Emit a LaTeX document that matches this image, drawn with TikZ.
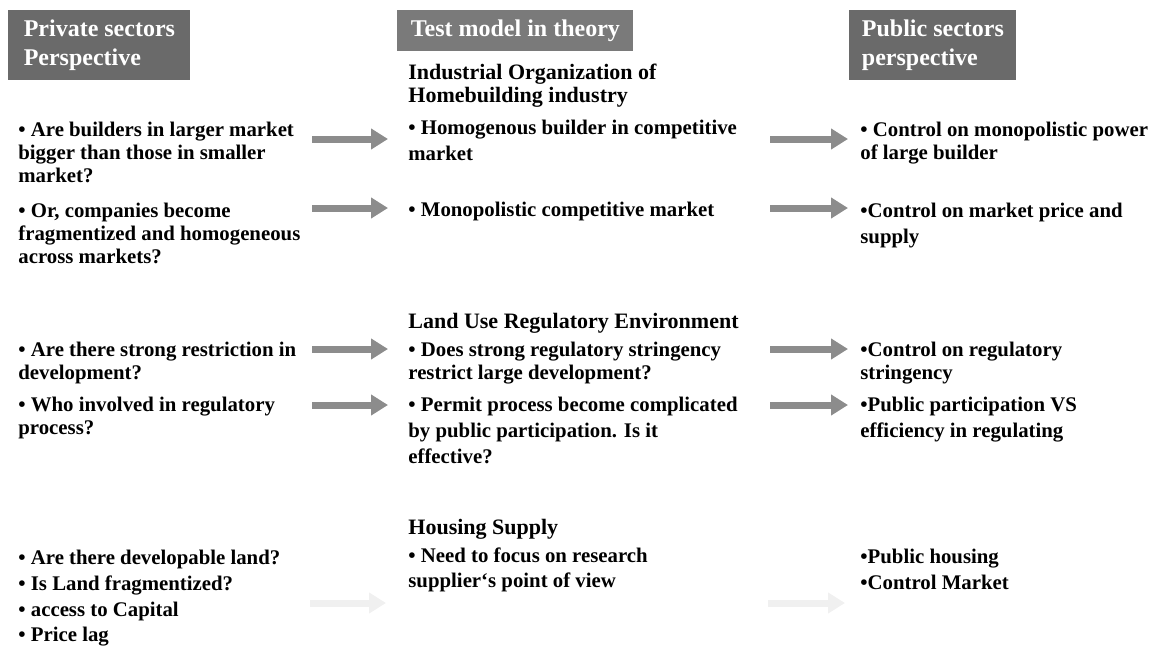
\documentclass[tikz,border=0pt]{standalone}
\usepackage{fontspec}
\setmainfont{Liberation Serif}
\usetikzlibrary{arrows.meta}
\definecolor{hdrdark}{RGB}{106,106,106}
\definecolor{hdrlight}{RGB}{122,122,122}
\definecolor{arrowgray}{RGB}{140,140,140}
\begin{document}
\begin{tikzpicture}[x=0.5pt, y=-0.5pt,
    hdr/.style={anchor=north west, fill=hdrdark, text=white, align=left, inner sep=0pt, font=\fontsize{12}{14.5}\selectfont\bfseries},
    txt/.style={anchor=north west, inner sep=0pt, align=left, font=\fontsize{10.4}{11.5}\selectfont\bfseries},
    loose/.style={txt, font=\fontsize{10.4}{12.8}\selectfont\bfseries},
    ttl/.style={txt, font=\fontsize{11}{11.5}\selectfont\bfseries},
    flow/.style={draw=arrowgray, line width=3.5pt, -{Triangle[length=8.5pt, width=10pt]}},
    faint/.style={flow, draw=gray!12}]
    \useasboundingbox (0,0) rectangle (1158,649);
    % headers
    \node[hdr, minimum width=91pt, minimum height=35pt] (HPriv) at (8,10) {Private sectors\\Perspective};
    \node[hdr, fill=hdrlight, minimum width=118pt, minimum height=20.5pt] (HTest) at (397,10) {Test model in theory};
    \node[hdr, minimum width=83.5pt, minimum height=35pt] (HPub) at (849,10) {Public sectors\\perspective};
    % private sectors column
    \node[txt] (P1) at (18,122) {• Are builders in larger market\\bigger than those in smaller\\market?};
    \node[txt] (P2) at (18,203) {• Or, companies become\\fragmentized and homogeneous\\across markets?};
    \node[txt] (P3) at (18,342) {• Are there strong restriction in\\development?};
    \node[txt] (P4) at (18,397) {• Who involved in regulatory\\process?};
    \node[loose] (P5) at (18,550) {• Are there developable land?\\• Is Land fragmentized?\\• access to Capital\\• Price lag};
    % test model column
    \node[ttl] (T0) at (408,64) {Industrial Organization of\\Homebuilding industry};
    \node[loose] (T1) at (408,120) {• Homogenous builder in competitive\\market};
    \node[txt] (T2) at (408,202) {• Monopolistic competitive market};
    \node[ttl] (T3) at (408,313) {Land Use Regulatory Environment};
    \node[txt] (T4) at (408,342) {• Does strong regulatory stringency\\restrict large development?};
    \node[loose] (T5) at (408,397) {• Permit process become complicated\\by public participation. Is it\\effective?};
    \node[ttl] (T6) at (408,519) {Housing Supply};
    \node[loose] (T7) at (408,547) {• Need to focus on research\\supplier`s point of view};
    % public sectors column
    \node[txt] (Q1) at (860,122) {• Control on monopolistic power\\of large builder};
    \node[loose] (Q2) at (860,203) {•Control on market price and\\supply};
    \node[txt] (Q3) at (860,342) {•Control on regulatory\\stringency};
    \node[loose] (Q4) at (860,397) {•Public participation VS\\efficiency in regulating};
    \node[loose] (Q5) at (860,549) {•Public housing\\•Control Market};
    % arrow ends
    \coordinate (a1) at (312,139); \coordinate (b1) at (388,139);
    \coordinate (a2) at (312,208); \coordinate (b2) at (388,208);
    \coordinate (a3) at (312,349); \coordinate (b3) at (388,349);
    \coordinate (a4) at (312,405); \coordinate (b4) at (388,405);
    \coordinate (a5) at (310,603); \coordinate (b5) at (386,603);
    \coordinate (c1) at (770,139); \coordinate (d1) at (848,139);
    \coordinate (c2) at (770,208); \coordinate (d2) at (848,208);
    \coordinate (c3) at (770,349); \coordinate (d3) at (848,349);
    \coordinate (c4) at (770,405); \coordinate (d4) at (848,405);
    \coordinate (c5) at (768,603); \coordinate (d5) at (845,603);
    \draw[flow] (a1) -- (b1);
    \draw[flow] (a2) -- (b2);
    \draw[flow] (a3) -- (b3);
    \draw[flow] (a4) -- (b4);
    \draw[faint] (a5) -- (b5);
    \draw[flow] (c1) -- (d1);
    \draw[flow] (c2) -- (d2);
    \draw[flow] (c3) -- (d3);
    \draw[flow] (c4) -- (d4);
    \draw[faint] (c5) -- (d5);
\end{tikzpicture}
\end{document}
